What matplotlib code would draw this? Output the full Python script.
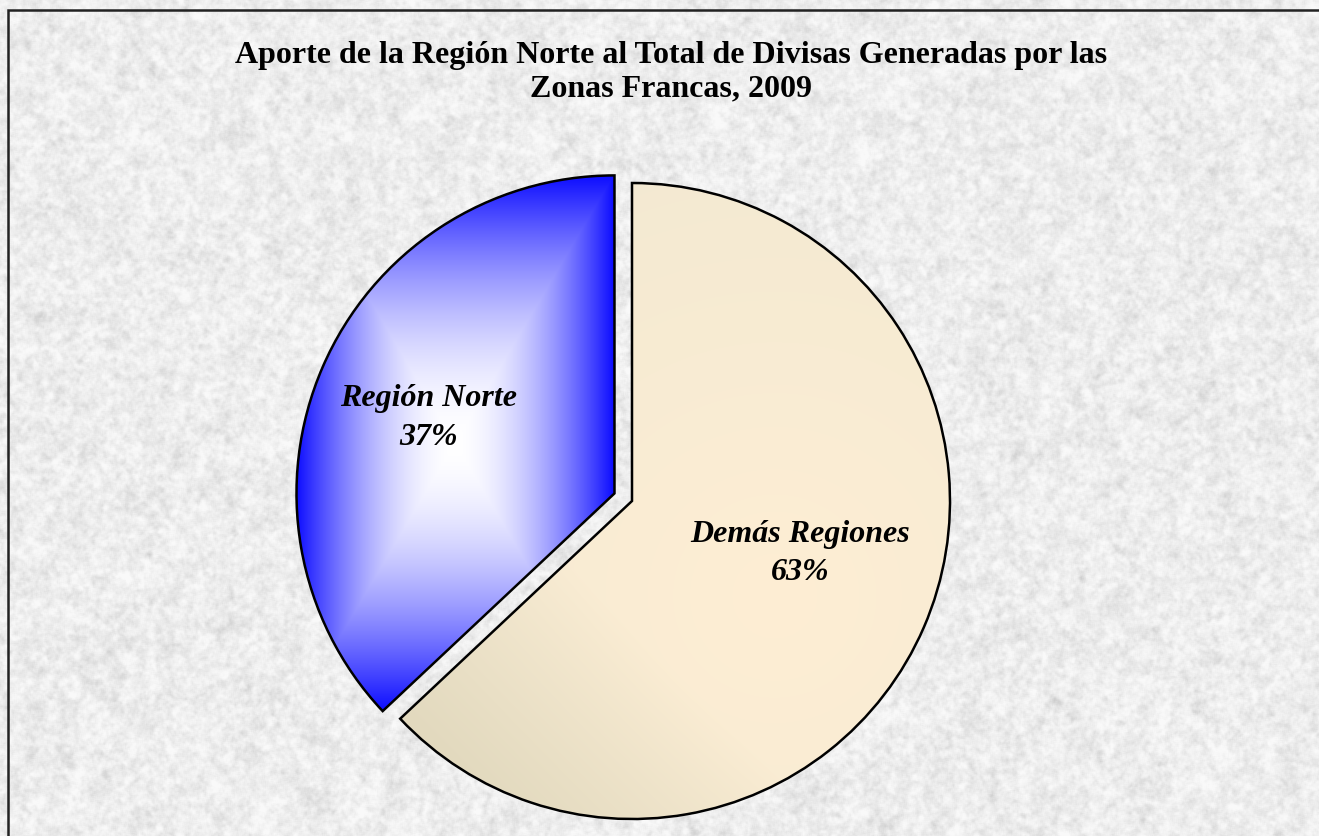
import numpy as np
import matplotlib
matplotlib.use("Agg")
import matplotlib.pyplot as plt
from matplotlib.patches import Rectangle

# ---- data ----
categories = ["Demás Regiones", "Región Norte"]
shares = [63, 37]
explode_amt = [0.0, 0.06]
title_text = "Aporte de la Región Norte al Total de Divisas Generadas por las\nZonas Francas, 2009"

W, H, DPI = 1319, 836, 100
fig = plt.figure(figsize=(W / DPI, H / DPI), dpi=DPI)

# ---- textured background (decorative only) ----
bg_ax = fig.add_axes([0, 0, 1, 1], zorder=-10)
rng = np.random.default_rng(7)
def blur(a, k):
    out = a.copy()
    for ax_ in (0, 1):
        acc = np.zeros_like(out)
        for s in range(-k, k + 1):
            acc += np.roll(out, s, axis=ax_)
        out = acc / (2 * k + 1)
    return out
def norm(a):
    return (a - a.min()) / (a.max() - a.min())
n1 = norm(blur(blur(rng.random((H, W)), 2), 2))
n2 = norm(blur(rng.random((H, W)), 1))
n3 = norm(blur(blur(rng.random((H, W)), 6), 6))
tex = norm(0.5 * n1 + 0.25 * n2 + 0.25 * n3)
val = 249 - 60 * np.clip((1 - tex) - 0.22, 0, 1) ** 1.25
val = np.clip(val, 192, 250) / 255.0
bg = np.dstack([val, val, val])
bg_ax.imshow(bg, extent=[0, 1, 0, 1], aspect="auto", interpolation="bilinear")
bg_ax.set_axis_off()

# border (left and top visible; right/bottom beyond image)
fig.add_artist(Rectangle((8 / W, -0.05), 1.2, (H - 10) / H + 0.05, transform=fig.transFigure,
                         fill=False, edgecolor="#222222", linewidth=1.8, zorder=5))

# ---- pie ----
R = 318
cx, cy = 632, H - 501
span = 1.5
ax = fig.add_axes([(cx - span * R) / W, (cy - span * R) / H, 2 * span * R / W, 2 * span * R / H])

wedges, _ = ax.pie(shares, explode=explode_amt, startangle=90, counterclock=False,
                   radius=1.0, wedgeprops=dict(linewidth=1.8, edgecolor="black"))
ax.set_xlim(-span, span)
ax.set_ylim(-span, span)
ax.set_aspect("equal")
ax.set_axis_off()

def wedge_image(w, colfun, n=400):
    c = w.center
    th1, th2 = np.deg2rad(w.theta1), np.deg2rad(w.theta2)
    angs = np.linspace(th1, th2, 200)
    xs = np.concatenate([[c[0]], c[0] + w.r * np.cos(angs)])
    ys = np.concatenate([[c[1]], c[1] + w.r * np.sin(angs)])
    x0, x1, y0, y1 = xs.min(), xs.max(), ys.min(), ys.max()
    gx, gy = np.meshgrid(np.linspace(x0, x1, n), np.linspace(y1, y0, n))
    img = colfun(gx, gy, (x0, x1, y0, y1), c)
    im = ax.imshow(img, extent=[x0, x1, y0, y1], interpolation="bilinear", zorder=1)
    im.set_clip_path(w)
    w.set_facecolor("none")
    w.set_zorder(2)

def blue_fun(gx, gy, bb, c):
    x0, x1, y0, y1 = bb
    mx, my = (x0 + x1) / 2, (y0 + y1) / 2
    u = np.abs(gx - mx) / ((x1 - x0) / 2)
    v = np.abs(gy - my) / ((y1 - y0) / 2)
    t = np.clip(np.maximum(u, v), 0, 1) ** 1.8
    white = np.array([1.0, 1.0, 1.0])
    blue = np.array([0.05, 0.05, 1.0])
    return white[None, None, :] * (1 - t[..., None]) + blue[None, None, :] * t[..., None]

def beige_fun(gx, gy, bb, c):
    px, py = gx - c[0], gy - c[1]
    d = np.hypot(px - 0.45, py + 0.3)
    t = np.clip(d / 1.6, 0, 1)
    center = np.array([254, 238, 212]) / 255
    edge = np.array([242, 233, 210]) / 255
    col = center[None, None, :] * (1 - t[..., None]) + edge[None, None, :] * t[..., None]
    s = np.clip((-(px) - (py) - 0.4) / 1.0, 0, 1)[..., None]
    dark = np.array([226, 217, 190]) / 255
    col = col * (1 - s) + dark[None, None, :] * s
    return col

wedge_image(wedges[0], beige_fun)
wedge_image(wedges[1], blue_fun)

# labels
label_pos = [(0.528, -0.165), (-0.64, 0.26)]
for w, name, pct, pos in zip(wedges, categories, shares, label_pos):
    ax.text(pos[0], pos[1], f"{name}\n{pct}%", ha="center", va="center",
            fontsize=23, fontweight="bold", fontstyle="italic",
            family="Liberation Serif", linespacing=1.45, zorder=4)

# title
fig.text(671 / W, 1 - 72 / H, title_text, ha="center", va="center",
         fontsize=23, fontweight="bold", family="Liberation Serif", linespacing=1.2)

fig.savefig("out.png", dpi=DPI)
